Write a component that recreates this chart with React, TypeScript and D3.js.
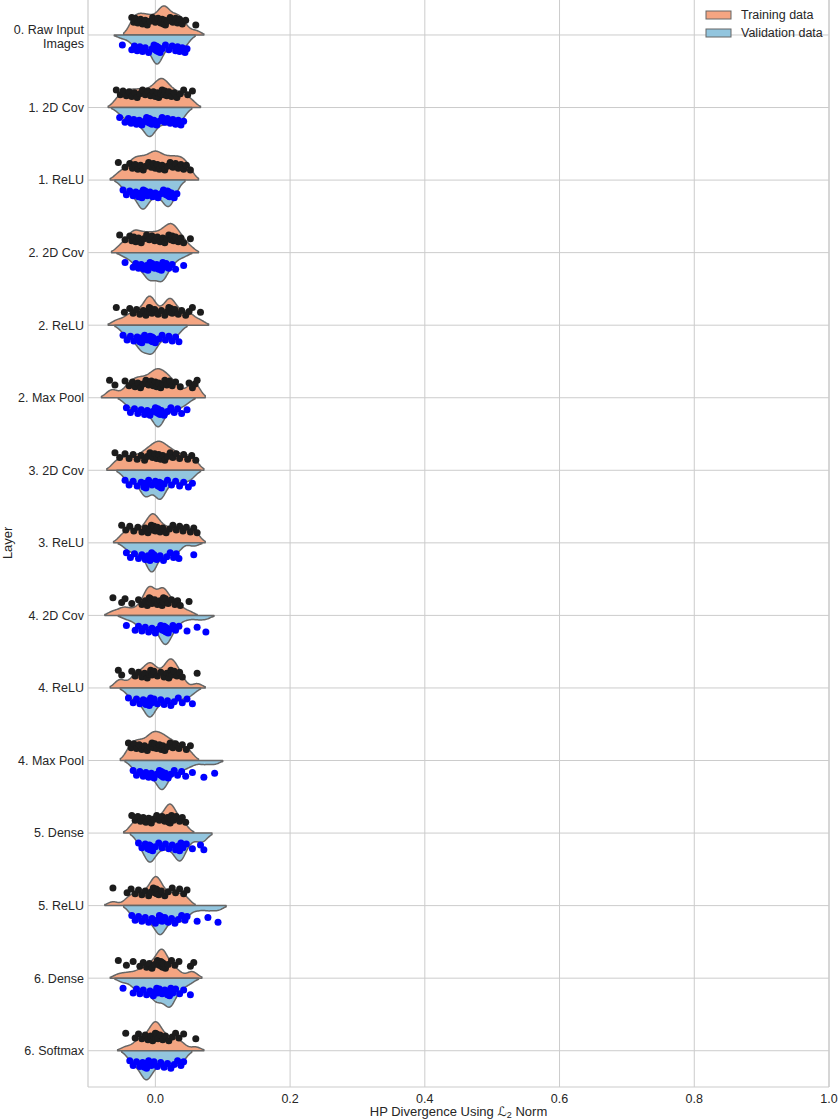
import React from 'react';
import * as d3 from 'd3';

const LAYERS = [
  '0. Raw Input\nImages', '1. 2D Cov', '1. ReLU', '2. 2D Cov', '2. ReLU', '2. Max Pool',
  '3. 2D Cov', '3. ReLU', '4. 2D Cov', '4. ReLU', '4. Max Pool', '5. Dense', '5. ReLU',
  '6. Dense', '6. Softmax',
];

const X_TICKS = [0, 0.2, 0.4, 0.6, 0.8, 1.0];
const X_TICK_LABELS = ['0.0', '0.2', '0.4', '0.6', '0.8', '1.0'];
const SERIES = ['Training data', 'Validation data'];

const TRAINING: number[][] = [
  [-0.035,-0.032,-0.030,-0.026,-0.022,-0.019,-0.015,-0.012,-0.008,-0.004,0.000,0.004,0.008,0.010,0.012,0.014,0.015,0.018,0.022,0.026,0.030,0.033,0.036,0.040,0.045,0.060],
  [-0.058,-0.052,-0.048,-0.043,-0.039,-0.035,-0.031,-0.027,-0.023,-0.019,-0.015,-0.011,-0.007,-0.003,0.000,0.003,0.005,0.008,0.010,0.012,0.014,0.017,0.020,0.024,0.028,0.032,0.037,0.042,0.048,0.055],
  [-0.055,-0.045,-0.038,-0.034,-0.030,-0.026,-0.022,-0.018,-0.014,-0.010,-0.006,-0.003,0.000,0.003,0.006,0.010,0.014,0.018,0.022,0.026,0.030,0.034,0.038,0.042,0.046,0.052],
  [-0.053,-0.045,-0.038,-0.035,-0.032,-0.029,-0.025,-0.021,-0.017,-0.013,-0.009,-0.005,-0.001,0.003,0.007,0.011,0.014,0.017,0.020,0.023,0.025,0.027,0.030,0.034,0.038,0.042,0.052],
  [-0.058,-0.046,-0.038,-0.033,-0.028,-0.023,-0.018,-0.014,-0.011,-0.009,-0.008,-0.007,-0.005,-0.001,0.004,0.009,0.014,0.018,0.020,0.022,0.023,0.025,0.029,0.034,0.039,0.045,0.050,0.055,0.067],
  [-0.068,-0.060,-0.045,-0.039,-0.034,-0.030,-0.026,-0.022,-0.018,-0.014,-0.010,-0.006,-0.003,0.000,0.002,0.005,0.008,0.011,0.014,0.017,0.021,0.025,0.030,0.037,0.050,0.055,0.059,0.062],
  [-0.060,-0.053,-0.045,-0.039,-0.033,-0.027,-0.021,-0.016,-0.012,-0.008,-0.004,-0.001,0.002,0.005,0.008,0.011,0.014,0.018,0.022,0.026,0.031,0.036,0.042,0.048,0.054,0.060],
  [-0.050,-0.044,-0.038,-0.032,-0.026,-0.020,-0.015,-0.011,-0.008,-0.006,-0.004,-0.002,0.000,0.003,0.007,0.011,0.016,0.021,0.026,0.031,0.036,0.041,0.046,0.052,0.057,0.062],
  [-0.063,-0.050,-0.045,-0.035,-0.025,-0.020,-0.015,-0.012,-0.010,-0.009,-0.008,-0.007,-0.005,-0.001,0.003,0.007,0.010,0.011,0.012,0.013,0.015,0.019,0.024,0.029,0.033,0.037,0.050],
  [-0.055,-0.050,-0.035,-0.030,-0.025,-0.020,-0.016,-0.012,-0.009,-0.007,-0.005,-0.002,0.003,0.008,0.013,0.017,0.020,0.022,0.023,0.025,0.028,0.032,0.036,0.040,0.062],
  [-0.040,-0.036,-0.032,-0.028,-0.024,-0.020,-0.016,-0.012,-0.008,-0.005,-0.003,-0.001,0.002,0.006,0.009,0.011,0.014,0.018,0.022,0.026,0.030,0.035,0.040,0.046,0.052],
  [-0.035,-0.030,-0.026,-0.022,-0.018,-0.014,-0.010,-0.006,-0.002,0.002,0.006,0.010,0.014,0.018,0.020,0.021,0.022,0.023,0.024,0.027,0.031,0.036,0.040,0.045],
  [-0.063,-0.042,-0.036,-0.030,-0.025,-0.020,-0.015,-0.010,-0.006,-0.003,-0.001,0.001,0.002,0.003,0.005,0.009,0.014,0.019,0.025,0.030,0.036,0.042,0.047],
  [-0.055,-0.043,-0.033,-0.023,-0.018,-0.013,-0.009,-0.005,-0.001,0.003,0.006,0.008,0.009,0.010,0.011,0.012,0.015,0.019,0.024,0.029,0.035,0.052,0.057],
  [-0.044,-0.030,-0.025,-0.020,-0.015,-0.011,-0.007,-0.004,-0.002,0.000,0.001,0.002,0.004,0.007,0.011,0.015,0.020,0.025,0.030,0.035,0.042,0.060],
];

const VALIDATION: number[][] = [
  [-0.049,-0.035,-0.031,-0.027,-0.023,-0.019,-0.015,-0.010,-0.005,-0.002,0.000,0.001,0.002,0.003,0.004,0.005,0.007,0.010,0.015,0.020,0.025,0.030,0.033,0.036,0.040,0.044,0.047],
  [-0.053,-0.045,-0.040,-0.036,-0.032,-0.028,-0.024,-0.020,-0.016,-0.013,-0.011,-0.009,-0.008,-0.007,-0.005,-0.002,0.002,0.006,0.010,0.014,0.018,0.022,0.026,0.030,0.034,0.038,0.042],
  [-0.048,-0.043,-0.038,-0.033,-0.029,-0.025,-0.022,-0.020,-0.019,-0.018,-0.017,-0.015,-0.012,-0.008,-0.004,0.000,0.004,0.008,0.012,0.016,0.018,0.019,0.020,0.021,0.024,0.028,0.032],
  [-0.045,-0.033,-0.029,-0.025,-0.021,-0.017,-0.013,-0.011,-0.009,-0.008,-0.007,-0.005,-0.001,0.002,0.005,0.008,0.009,0.010,0.011,0.013,0.016,0.020,0.025,0.030,0.042],
  [-0.048,-0.042,-0.037,-0.032,-0.027,-0.023,-0.021,-0.020,-0.019,-0.016,-0.012,-0.008,-0.006,-0.005,-0.004,-0.003,0.000,0.005,0.010,0.015,0.020,0.025,0.030,0.035],
  [-0.043,-0.037,-0.031,-0.026,-0.021,-0.016,-0.012,-0.008,-0.004,0.000,0.002,0.0035,0.0045,0.0055,0.007,0.009,0.013,0.018,0.023,0.028,0.033,0.039,0.047],
  [-0.045,-0.039,-0.033,-0.027,-0.021,-0.017,-0.015,-0.014,-0.013,-0.010,-0.005,0.000,0.004,0.006,0.007,0.008,0.009,0.013,0.018,0.024,0.030,0.036,0.042,0.049,0.055],
  [-0.043,-0.037,-0.031,-0.025,-0.020,-0.015,-0.011,-0.008,-0.006,-0.0055,-0.005,-0.0045,-0.004,-0.002,0.002,0.007,0.012,0.017,0.022,0.027,0.031,0.035,0.057],
  [-0.043,-0.030,-0.025,-0.020,-0.015,-0.010,-0.005,0.000,0.004,0.008,0.011,0.013,0.014,0.015,0.016,0.017,0.019,0.022,0.026,0.030,0.035,0.047,0.062,0.075],
  [-0.040,-0.033,-0.028,-0.023,-0.018,-0.014,-0.011,-0.009,-0.008,-0.007,-0.005,-0.002,0.003,0.008,0.013,0.018,0.023,0.028,0.034,0.040,0.047,0.055],
  [-0.033,-0.028,-0.023,-0.018,-0.014,-0.010,-0.006,-0.002,0.002,0.006,0.008,0.009,0.010,0.011,0.012,0.015,0.019,0.023,0.028,0.033,0.039,0.045,0.055,0.072,0.088],
  [-0.025,-0.020,-0.015,-0.011,-0.009,-0.008,-0.007,-0.004,0.000,0.005,0.010,0.015,0.020,0.025,0.030,0.034,0.036,0.037,0.038,0.041,0.046,0.055,0.067,0.072],
  [-0.035,-0.030,-0.025,-0.020,-0.015,-0.010,-0.005,0.000,0.004,0.006,0.007,0.008,0.010,0.014,0.019,0.024,0.029,0.034,0.039,0.044,0.047,0.062,0.078,0.093],
  [-0.048,-0.033,-0.028,-0.023,-0.018,-0.013,-0.008,-0.003,0.000,0.002,0.003,0.006,0.010,0.014,0.018,0.020,0.021,0.022,0.023,0.026,0.030,0.036,0.042,0.052],
  [-0.038,-0.033,-0.028,-0.023,-0.019,-0.016,-0.014,-0.013,-0.012,-0.010,-0.006,-0.002,0.003,0.008,0.013,0.018,0.023,0.028,0.033,0.038,0.042],
];

const W = 840;
const H = 1120;
const PLOT = { left: 88, right: 829, top: -1.3, bottom: 1087 };
const FILL = ['#f4a582', '#92c5de'];
const DOT = ['#1c1c1c', '#0000ff'];
const EDGE = '#666666';
const GRID = '#cccccc';
const TEXT = '#262626';
const FONT = '"Liberation Sans", Arial, Helvetica, sans-serif';
const BW = 0.0075;
const CUT = 1.6;

function kde(vals: number[]): [number, number][] {
  const lo = (d3.min(vals) as number) - CUT * BW;
  const hi = (d3.max(vals) as number) + CUT * BW;
  const n = 160;
  const pts: [number, number][] = d3.range(n + 1).map((i) => {
    const g = lo + ((hi - lo) * i) / n;
    const d = d3.sum(vals, (v) => Math.exp(-0.5 * ((g - v) / BW) ** 2));
    return [g, d];
  });
  const mx = d3.max(pts, (p) => p[1]) as number;
  return pts.map((p) => [p[0], p[1] / mx]);
}

export default function App() {
  const x = d3.scaleLinear().domain([-0.1, 1.0]).range([PLOT.left, PLOT.right]);
  const y = d3.scaleBand().domain(LAYERS).range([PLOT.top, PLOT.bottom]).paddingInner(0).paddingOuter(0);
  const step = y.bandwidth();
  const half = step * 0.4;
  const dodge = step * 0.19;

  return (
    <svg width={W} height={H} style={{ position: 'absolute', left: 0, top: 0, background: '#fff' }} fontFamily={FONT}>
      {/* grid */}
      {X_TICKS.map((t) => (
        <line key={'gx' + t} x1={x(t)} x2={x(t)} y1={PLOT.top} y2={PLOT.bottom} stroke={GRID} strokeWidth={1} />
      ))}
      {LAYERS.map((l) => {
        const c = (y(l) as number) + step / 2;
        return <line key={'gy' + l} x1={PLOT.left} x2={PLOT.right} y1={c} y2={c} stroke={GRID} strokeWidth={1} />;
      })}
      {/* spines */}
      <line x1={PLOT.left} x2={PLOT.left} y1={PLOT.top} y2={PLOT.bottom} stroke={GRID} strokeWidth={1.2} />
      <line x1={PLOT.right} x2={PLOT.right} y1={PLOT.top} y2={PLOT.bottom} stroke={GRID} strokeWidth={1.2} />
      <line x1={PLOT.left} x2={PLOT.right} y1={PLOT.bottom} y2={PLOT.bottom} stroke={GRID} strokeWidth={1.2} />

      {/* violins */}
      {LAYERS.map((l, li) => {
        const c = (y(l) as number) + step / 2;
        return [TRAINING[li], VALIDATION[li]].map((vals, s) => {
          const dens = kde(vals);
          const sign = s === 0 ? -1 : 1;
          const area = d3
            .area<[number, number]>()
            .x((d) => x(d[0]))
            .y0(c)
            .y1((d) => c + sign * d[1] * half);
          return (
            <path key={'v' + li + '-' + s} d={area(dens) as string} fill={FILL[s]} stroke={EDGE} strokeWidth={1.5} strokeLinejoin="round" />
          );
        });
      })}

      {/* points */}
      {LAYERS.map((l, li) => {
        const c = (y(l) as number) + step / 2;
        return [TRAINING[li], VALIDATION[li]].map((vals, s) =>
          vals.map((v, i) => {
            const jit = (((i * 5) % 9) - 4) * 0.95;
            const cy = c + (s === 0 ? -dodge : dodge) + jit;
            return <circle key={'p' + li + '-' + s + '-' + i} cx={x(v)} cy={cy} r={3.5} fill={DOT[s]} />;
          })
        );
      })}

      {/* y tick labels */}
      {LAYERS.map((l) => {
        const c = (y(l) as number) + step / 2;
        const lines = l.split('\n');
        if (lines.length === 1) {
          return (
            <text key={'yl' + l} x={84} y={c} dy="0.35em" textAnchor="end" fontSize={12.5} fill={TEXT}>
              {l}
            </text>
          );
        }
        return (
          <text key={'yl' + l} x={84} textAnchor="end" fontSize={12.5} fill={TEXT}>
            <tspan x={84} y={c - 5} dy="0.35em">{lines[0]}</tspan>
            <tspan x={84} y={c + 9} dy="0.35em">{lines[1]}</tspan>
          </text>
        );
      })}

      {/* x tick labels */}
      {X_TICKS.map((t, i) => (
        <text key={'xl' + t} x={x(t)} y={1102.5} textAnchor="middle" fontSize={12.5} fill={TEXT}>
          {X_TICK_LABELS[i]}
        </text>
      ))}

      {/* axis labels */}
      <text x={(PLOT.left + PLOT.right) / 2} y={1115.5} textAnchor="middle" fontSize={13} fill={TEXT}>
        HP Divergence Using <tspan fontStyle="italic" fontFamily="DejaVu Sans">ℒ</tspan>
        <tspan fontSize={9} dy={2}>2</tspan>
        <tspan dy={-2}> Norm</tspan>
      </text>
      <text transform={`translate(11.5, ${(PLOT.top + PLOT.bottom) / 2}) rotate(-90)`} textAnchor="middle" fontSize={13} fill={TEXT}>
        Layer
      </text>

      {/* legend */}
      {SERIES.map((s, i) => (
        <g key={'lg' + s} transform={`translate(706, ${11 + i * 18})`}>
          <rect x={0} y={0} width={25} height={8} fill={FILL[i]} stroke={EDGE} strokeWidth={1} />
          <text x={35} y={4} dy="0.35em" fontSize={12.5} fill={TEXT}>
            {s}
          </text>
        </g>
      ))}
    </svg>
  );
}
